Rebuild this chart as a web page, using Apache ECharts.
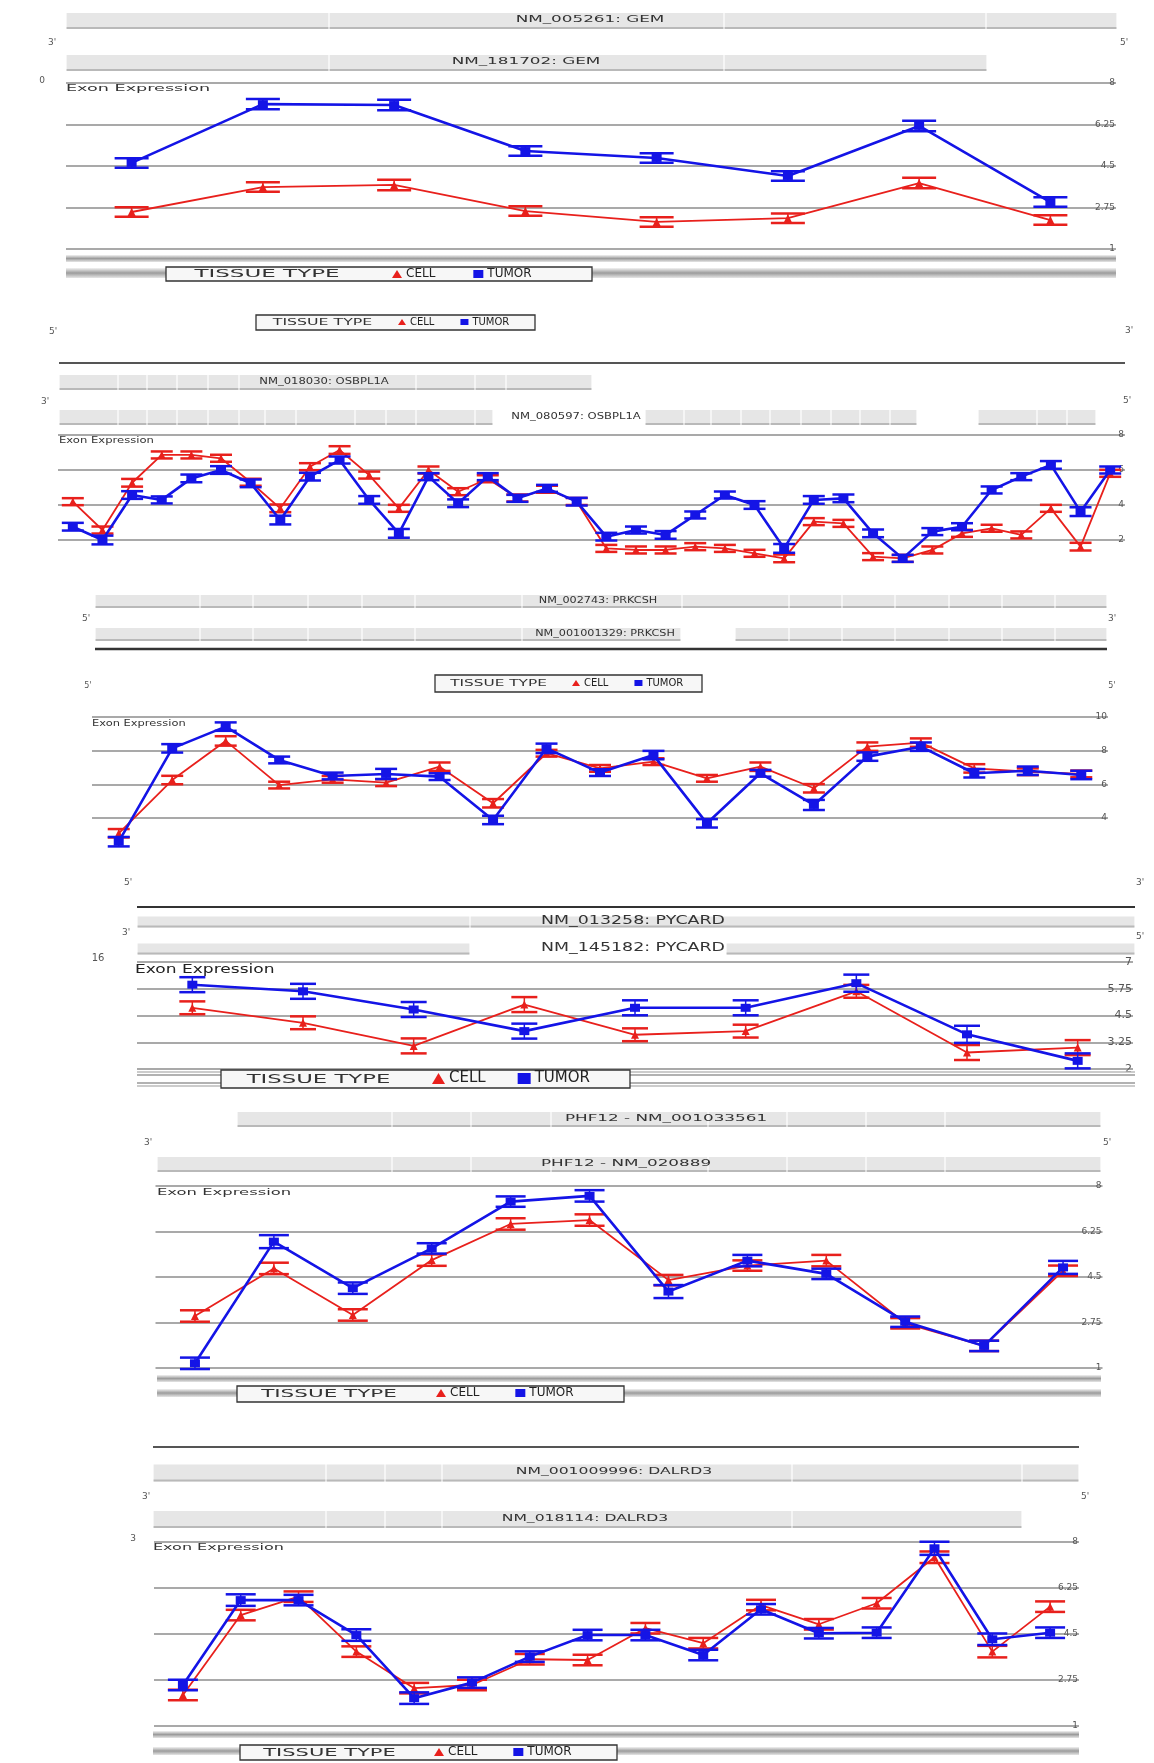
<!DOCTYPE html>
<html><head><meta charset="utf-8">
<script src="https://cdn.jsdelivr.net/npm/echarts@6/dist/echarts.min.js"></script>
<style>html,body{margin:0;padding:0;background:#fff}#c{width:1154px;height:1763px}</style>
</head><body><div id="c"></div>
<script>
// ---------------- DATA ----------------
// Panel 1: GEM
const p1Exons = ['1','2','3','4','5','6','7','8'];
const p1Cell  = [2.56, 3.61, 3.70, 2.60, 2.14, 2.30, 3.78, 2.22];
const p1Tumor = [4.63, 7.11, 7.07, 5.13, 4.84, 4.08, 6.19, 2.98];
const p1CellErr  = [0.2, 0.2, 0.22, 0.2, 0.2, 0.2, 0.22, 0.2];
const p1TumorErr = [0.2, 0.22, 0.22, 0.2, 0.2, 0.2, 0.22, 0.2];
const p1Ticks = [1, 2.75, 4.5, 6.25, 8];
const p1TrackLabels = [['NM_005261: GEM', 590, 0], ['NM_181702: GEM', 526, 1]];
const p1Tracks = [[[66,329,724,986,1117]], [[66,329,724,987]]];

// Panel 2: OSBPL1A
const p2Exons = ['1','2','3','4','5','6','7','8','9','10','11','12','13','14','15','16','17','18','19','20','21','22','23','24','25','26','27','28','29','30','31','32','33','34','35','36'];
const p2Cell  = [4.19, 2.57, 5.27, 6.86, 6.86, 6.67, 5.3, 3.81, 6.19, 7.14, 5.71, 3.81, 6.0, 4.76, 5.5, 4.4, 4.9, 4.2, 1.52, 1.43, 1.43, 1.62, 1.52, 1.24, 0.95, 3.05, 2.95, 1.05, 0.95, 1.43, 2.38, 2.67, 2.29, 3.81, 1.62, 5.81];
const p2Tumor = [2.76, 2.0, 4.57, 4.29, 5.52, 6.0, 5.24, 3.14, 5.62, 6.57, 4.29, 2.38, 5.62, 4.10, 5.62, 4.38, 4.95, 4.19, 2.19, 2.57, 2.29, 3.43, 4.57, 4.0, 1.52, 4.29, 4.38, 2.38, 0.95, 2.48, 2.76, 4.86, 5.62, 6.29, 3.62, 6.0];
const p2CellErr  = [0.2,0.2,0.22,0.2,0.2,0.2,0.2,0.22,0.2,0.22,0.2,0.2,0.2,0.2,0.2,0.2,0.2,0.2,0.2,0.2,0.2,0.2,0.2,0.2,0.22,0.2,0.2,0.2,0.2,0.2,0.2,0.2,0.2,0.2,0.22,0.2];
const p2TumorErr = [0.22,0.25,0.22,0.2,0.22,0.22,0.22,0.25,0.22,0.2,0.22,0.25,0.2,0.22,0.2,0.2,0.2,0.22,0.22,0.2,0.22,0.2,0.2,0.22,0.25,0.22,0.22,0.22,0.2,0.2,0.2,0.2,0.2,0.22,0.25,0.2];
const p2Ticks = [2, 4, 6, 8];
const p2TrackLabels = [['NM_018030: OSBPL1A', 324, 0], ['NM_080597: OSBPL1A', 576, 1]];
const p2Tracks = [[[59,118,147,177,208,239,416,475,506,592]],
                  [[59,118,147,177,208,239,265,296,355,386,416,475,493],[645,684,711,741,770,801,831,860,890,917],[978,1037,1067,1096]]];

// Panel 3: PRKCSH
const p3Exons = ['1','2','3','4','5','6','7','8','9','10','11','12','13','14','15','16','17','18','19'];
const p3Cell  = [3.10, 6.26, 8.58, 5.96, 6.30, 6.10, 7.05, 4.88, 7.85, 6.95, 7.35, 6.36, 7.05, 5.77, 8.24, 8.48, 6.95, 6.75, 6.62];
const p3Tumor = [2.60, 8.14, 9.43, 7.45, 6.50, 6.62, 6.46, 3.89, 8.14, 6.70, 7.74, 3.69, 6.66, 4.78, 7.65, 8.24, 6.66, 6.81, 6.56];
const p3CellErr  = [0.25,0.25,0.28,0.2,0.2,0.2,0.25,0.25,0.2,0.2,0.2,0.2,0.25,0.25,0.25,0.25,0.25,0.2,0.2];
const p3TumorErr = [0.28,0.25,0.25,0.2,0.2,0.3,0.2,0.25,0.28,0.2,0.25,0.25,0.2,0.3,0.25,0.25,0.25,0.25,0.25];
const p3Ticks = [4, 6, 8, 10];
const p3TrackLabels = [['NM_002743: PRKCSH', 598, 0], ['NM_001001329: PRKCSH', 605, 1]];
const p3Tracks = [[[95,200,253,308,362,415,522,682,789,842,895,949,1002,1055,1107]],
                  [[95,200,253,308,362,415,522,681],[735,789,842,895,949,1002,1055,1107]]];

// Panel 4: PYCARD
const p4Exons = ['1','2','3','4','5','6','7','8','9'];
const p4Cell  = [4.86, 4.16, 3.08, 5.01, 3.60, 3.77, 5.63, 2.77, 3.0];
const p4Tumor = [5.94, 5.63, 4.78, 3.77, 4.86, 4.86, 6.01, 3.62, 2.38];
const p4CellErr  = [0.3, 0.3, 0.35, 0.35, 0.3, 0.3, 0.3, 0.35, 0.35];
const p4TumorErr = [0.35, 0.35, 0.35, 0.35, 0.35, 0.35, 0.4, 0.4, 0.35];
const p4Ticks = [2, 3.25, 4.5, 5.75, 7];
const p4TrackLabels = [['NM_013258: PYCARD', 633, 0], ['NM_145182: PYCARD', 633, 1]];
const p4Tracks = [[[137,470,1135]], [[137,470],[726,1135]]];

// Panel 5: PHF12
const p5Exons = ['1','2','3','4','5','6','7','8','9','10','11','12'];
const p5Cell  = [3.0, 4.83, 3.04, 5.15, 6.54, 6.69, 4.38, 4.94, 5.13, 2.72, 1.85, 4.74];
const p5Tumor = [1.18, 5.86, 4.07, 5.60, 7.40, 7.62, 3.94, 5.13, 4.62, 2.78, 1.85, 4.87];
const p5CellErr  = [0.22, 0.22, 0.22, 0.22, 0.22, 0.22, 0.2, 0.2, 0.22, 0.2, 0.2, 0.2];
const p5TumorErr = [0.22, 0.25, 0.22, 0.2, 0.2, 0.22, 0.25, 0.22, 0.2, 0.2, 0.2, 0.25];
const p5Ticks = [1, 2.75, 4.5, 6.25, 8];
const p5TrackLabels = [['PHF12 - NM_001033561', 666, 0], ['PHF12 - NM_020889', 626, 1]];
const p5Tracks = [[[237,392,471,551,708,787,866,945,1101]], [[157,392,471,551,708,787,866,945,1101]]];

// Panel 6: DALRD3
const p6Exons = ['1','2','3','4','5','6','7','8','9','10','11','12','13','14','15','16'];
const p6Cell  = [2.18, 5.22, 5.92, 3.83, 2.44, 2.56, 3.54, 3.51, 4.72, 4.15, 5.60, 4.87, 5.67, 7.42, 3.83, 5.54];
const p6Tumor = [2.56, 5.79, 5.79, 4.46, 2.06, 2.65, 3.64, 4.46, 4.46, 3.70, 5.44, 4.53, 4.55, 7.76, 4.30, 4.55];
const p6CellErr  = [0.2, 0.2, 0.2, 0.2, 0.2, 0.2, 0.2, 0.2, 0.2, 0.2, 0.2, 0.2, 0.2, 0.22, 0.22, 0.2];
const p6TumorErr = [0.2, 0.22, 0.2, 0.22, 0.22, 0.2, 0.2, 0.2, 0.2, 0.2, 0.2, 0.2, 0.2, 0.25, 0.22, 0.2];
const p6Ticks = [1, 2.75, 4.5, 6.25, 8];
const p6TrackLabels = [['NM_001009996: DALRD3', 614, 0], ['NM_018114: DALRD3', 585, 1]];
const p6Tracks = [[[153,326,385,442,792,1022,1079]], [[153,326,385,442,792,1022]]];

const seriesNames = ['CELL', 'TUMOR'];

// ---------------- LAYOUT / STYLE ----------------
const FONT = 'DejaVu Sans';
const RED = '#e8201c', BLUE = '#1414e6';
const panels = [
  {cats:p1Exons, cell:p1Cell, tumor:p1Tumor, ce:p1CellErr, te:p1TumorErr, ticks:p1Ticks, min:1, max:8,
   grid:{left:66, right:38, top:83, height:166}, cap:17, lab:9, tracks:p1Tracks, tl:p1TrackLabels, tg:{top:0, height:84}, th:16, tf:8, tsx:2.1},
  {cats:p2Exons, cell:p2Cell, tumor:p2Tumor, ce:p2CellErr, te:p2TumorErr, ticks:p2Ticks, min:0, max:8,
   grid:{left:58, right:29, top:435, height:140}, cap:11, lab:9, tracks:p2Tracks, tl:p2TrackLabels, tg:{top:365, height:70}, th:15, tf:8, tsx:1.45},
  {cats:p3Exons, cell:p3Cell, tumor:p3Tumor, ce:p3CellErr, te:p3TumorErr, ticks:p3Ticks, min:2, max:10,
   grid:{left:92, right:46, top:717, height:134.8}, cap:11, lab:9, tracks:p3Tracks, tl:p3TrackLabels, tg:{top:585, height:66}, th:13, tf:8, tsx:1.4},
  {cats:p4Exons, cell:p4Cell, tumor:p4Tumor, ce:p4CellErr, te:p4TumorErr, ticks:p4Ticks, min:2, max:7,
   grid:{left:137, right:21, top:962, height:107}, cap:13, lab:11, tracks:p4Tracks, tl:p4TrackLabels, tg:{top:908.5, height:54}, th:11, tf:12, tsx:1.45},
  {cats:p5Exons, cell:p5Cell, tumor:p5Tumor, ce:p5CellErr, te:p5TumorErr, ticks:p5Ticks, min:1, max:8,
   grid:{left:155.5, right:51.5, top:1186, height:182}, cap:15, lab:9, tracks:p5Tracks, tl:p5TrackLabels, tg:{top:1097, height:90}, th:15, tf:8, tsx:2.1},
  {cats:p6Exons, cell:p6Cell, tumor:p6Tumor, ce:p6CellErr, te:p6TumorErr, ticks:p6Ticks, min:1, max:8,
   grid:{left:154, right:75, top:1542, height:184}, cap:15, lab:9, tracks:p6Tracks, tl:p6TrackLabels, tg:{top:1449.75, height:93}, th:17, tf:8, tsx:1.95}
];

const grid = [], xAxis = [], yAxis = [], series = [];

function errRender(cap, color) {
  return function (params, api) {
    const i = api.value(0);
    const lo = api.coord([i, api.value(1)]);
    const hi = api.coord([i, api.value(2)]);
    return {type:'group', children:[
      {type:'line', shape:{x1:lo[0], y1:lo[1], x2:hi[0], y2:hi[1]}, style:{stroke:color, lineWidth:1.5}},
      {type:'line', shape:{x1:lo[0]-cap, y1:lo[1], x2:lo[0]+cap, y2:lo[1]}, style:{stroke:color, lineWidth:2.5}},
      {type:'line', shape:{x1:hi[0]-cap, y1:hi[1], x2:hi[0]+cap, y2:hi[1]}, style:{stroke:color, lineWidth:2.5}}
    ]};
  };
}

panels.forEach((p, k) => {
  grid.push(Object.assign({}, p.grid));
  xAxis.push({gridIndex:k, type:'category', data:p.cats, boundaryGap:true, show:false});
  yAxis.push({gridIndex:k, type:'value', position:'right', min:p.min, max:p.max,
    axisLine:{show:false}, axisTick:{show:false, customValues:p.ticks},
    axisLabel:{inside:true, customValues:p.ticks, fontSize:p.lab, color:'#555', fontFamily:FONT, margin:1},
    splitLine:{show:true, lineStyle:{color:'#a9a9a9', width:2}}});
  const mk = (vals, errs) => p.cats.map((c, j) => [j, vals[j] - errs[j], vals[j] + errs[j]]);
  series.push({type:'custom', name:'CELL err', xAxisIndex:k, yAxisIndex:k, renderItem:errRender(p.cap, RED),
    data:mk(p.cell, p.ce), encode:{x:0, y:[1,2]}, z:2, silent:true});
  series.push({type:'line', name:seriesNames[0], xAxisIndex:k, yAxisIndex:k, data:p.cell,
    symbol:'triangle', symbolSize:8, lineStyle:{color:RED, width:1.8}, itemStyle:{color:RED}, z:3});
  series.push({type:'custom', name:'TUMOR err', xAxisIndex:k, yAxisIndex:k, renderItem:errRender(p.cap, BLUE),
    data:mk(p.tumor, p.te), encode:{x:0, y:[1,2]}, z:4, silent:true});
  series.push({type:'line', name:seriesNames[1], xAxisIndex:k, yAxisIndex:k, data:p.tumor,
    symbol:'rect', symbolSize:[10,8], lineStyle:{color:BLUE, width:2.6}, itemStyle:{color:BLUE}, z:5});
});

// transcript tracks
panels.forEach((p, k) => {
  const gi = 6 + k;
  grid.push({left:0, right:0, top:p.tg.top, height:p.tg.height});
  xAxis.push({gridIndex:gi, type:'value', min:0, max:1154, show:false});
  yAxis.push({gridIndex:gi, type:'value', min:-0.5, max:1.5, inverse:true, show:false});
  const segs = [];
  p.tracks.forEach((groups, r) => groups.forEach(b => {
    for (let i = 0; i < b.length - 1; i++) segs.push([b[i], b[i+1], r]);
  }));
  const th = p.th;
  series.push({type:'custom', name:'track'+k, xAxisIndex:gi, yAxisIndex:gi, silent:true, z:1,
    data:segs, encode:{x:[0,1], y:2},
    renderItem:function (params, api) {
      const a = api.coord([api.value(0), api.value(2)]);
      const b = api.coord([api.value(1), api.value(2)]);
      const y0 = a[1] - th/2;
      return {type:'group', children:[
        {type:'rect', shape:{x:a[0]+0.6, y:y0, width:b[0]-a[0]-1.2, height:th}, style:{fill:'#e6e6e6'}},
        {type:'line', shape:{x1:a[0]+0.6, y1:y0+th-1, x2:b[0]-0.6, y2:y0+th-1}, style:{stroke:'#b9b9b9', lineWidth:2}}
      ]};
    }});
  const labs = p.tl;
  series.push({type:'custom', name:'tracklabel'+k, xAxisIndex:gi, yAxisIndex:gi, silent:true, z:6,
    data:labs.map(l => [l[1], l[2]]), encode:{x:0, y:1},
    renderItem:function (params, api) {
      const c = api.coord([api.value(0), api.value(1)]);
      return {type:'text', x:c[0], y:c[1]-1, scaleX:p.tsx, style:{text:labs[params.dataIndex][0], fontSize:p.tf,
        fontFamily:FONT, fill:'#333', align:'center', verticalAlign:'middle'}};
    }});
});

// ---------------- DECORATION ----------------
const G = [];
function T(x, y, s, size, opt, sx) {
  G.push({type:'text', x:x, y:y, z:10, scaleX:sx||1, style:Object.assign({text:s, fontSize:size||9, fontFamily:FONT,
    fill:'#555', align:'center', verticalAlign:'middle'}, opt||{})});
}
function L(x1, y1, x2, y2, c, w) {
  G.push({type:'line', z:8, shape:{x1:x1, y1:y1, x2:x2, y2:y2}, style:{stroke:c, lineWidth:w}});
}
function band(x, y, w, h) {
  G.push({type:'rect', z:8, shape:{x:x, y:y, width:w, height:h}, style:{
    fill:new echarts.graphic.LinearGradient(0,0,0,1,[{offset:0,color:'#f2f2f2'},{offset:0.5,color:'#9c9c9c'},{offset:1,color:'#e6e6e6'}])}});
}
function legBox(x, y, w, h, div, fs, sx) {
  G.push({type:'rect', z:9, shape:{x:x, y:y, width:w, height:h}, style:{fill:'#f7f7f7', stroke:'#333', lineWidth:1.3}});
  L(div, y, div, y+h, '#333', 1.3);
  T((x+div)/2, y+h/2+0.5, 'TISSUE TYPE', fs, {fill:'#333'}, sx);
}
const EX = {align:'left', fill:'#333'};

// Panel 1
T(52, 43, "3'"); T(1124, 43, "5'"); T(42, 81, '0');
T(66, 89, 'Exon Expression', 8, EX, 2.2);
band(66, 255, 1050, 7); band(66, 268, 1050, 10);
legBox(166, 267, 426, 14, 368, 10, 2.3);
legBox(256, 315, 279, 15, 389, 9, 1.75);
// Panel 2
T(53, 332, "5'"); T(1129, 331, "3'");
L(59, 363, 1125, 363, '#555', 2);
T(45, 402, "3'"); T(1127, 401, "5'");
T(59, 441, 'Exon Expression', 8, EX, 1.45);
// Panel 3
T(86, 619, "5'"); T(1112, 619, "3'");
L(95, 649, 1107, 649, '#333', 2.5);
legBox(435, 675, 267, 17, 562, 9, 1.7);
T(88, 686, "5'", 8); T(1112, 686, "5'", 8);
T(92, 724, 'Exon Expression', 8, EX, 1.43);
// Panel 4
T(128, 883, "5'"); T(1140, 883, "3'");
L(137, 907, 1135, 907, '#333', 2);
T(126, 933, "3'"); T(1140, 937, "5'"); T(98, 958, '16', 10);
T(135, 970, 'Exon Expression', 12, {align:'left', fill:'#222'}, 1.42);
L(137, 1072, 1135, 1072, '#bbb', 1.5); L(137, 1075, 1135, 1075, '#999', 1.5);
L(137, 1083, 1135, 1083, '#999', 1.5); L(137, 1086, 1135, 1086, '#bbb', 1.5);
legBox(221, 1070, 409, 18, 416, 13, 1.75);
// Panel 5
T(148, 1143, "3'"); T(1107, 1143, "5'");
T(157, 1193, 'Exon Expression', 8, EX, 2.05);
band(157, 1375, 944, 7); band(157, 1389, 944, 8);
legBox(237, 1386, 387, 16, 421, 10, 2.15);
// Panel 6
L(153, 1447, 1079, 1447, '#555', 2);
T(146, 1497, "3'"); T(1085, 1497, "5'"); T(133, 1539, '3');
T(153, 1548, 'Exon Expression', 8, EX, 2.0);
band(153, 1731, 926, 7); band(153, 1747, 926, 8);
legBox(240, 1745, 377, 15, 419, 10, 2.1);

// legends (CELL / TUMOR)
const legendItems = [{name:seriesNames[0], icon:'triangle'}, {name:seriesNames[1], icon:'rect'}];
const legendPos = [
  {left:392, top:268, fs:12, gap:38}, {left:398, top:317, fs:10, gap:26}, {left:572, top:678, fs:10, gap:26},
  {left:432, top:1071, fs:15, gap:32}, {left:436, top:1387, fs:12, gap:36}, {left:434, top:1746, fs:12, gap:36}
];
const legend = legendPos.map(l => ({left:l.left, top:l.top, data:legendItems, padding:0, itemGap:l.gap,
  itemWidth:l.fs-2, itemHeight:l.fs-4, selectedMode:false, z:12,
  textStyle:{fontSize:l.fs, color:'#222', fontFamily:FONT, padding:[0,0,0,-1]}}));

const chart = echarts.init(document.getElementById('c'), null, {renderer:'canvas'});
chart.setOption({animation:false, backgroundColor:'#fff', grid, xAxis, yAxis, series, legend, graphic:{elements:G}});
</script></body></html>
